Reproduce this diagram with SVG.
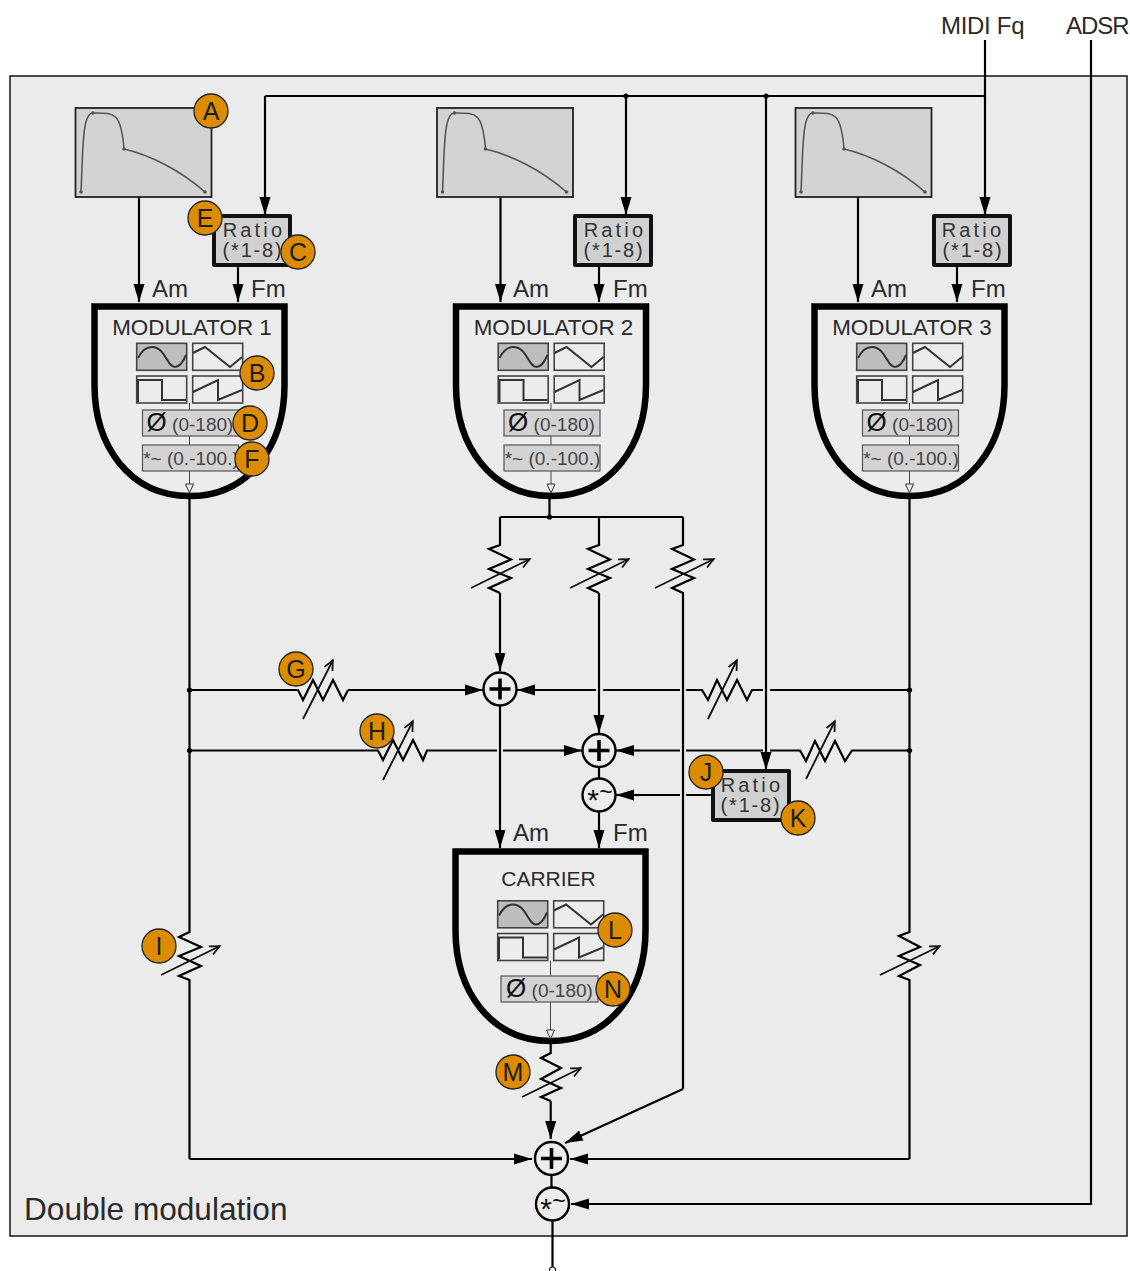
<svg xmlns="http://www.w3.org/2000/svg" width="1130" height="1271" viewBox="0 0 1130 1271">
<style>
text{font-family:"Liberation Sans",Arial,sans-serif;fill:#2a2a2a}
.lab{font-size:24px}
.title{font-size:22.400px;text-anchor:middle}
.ratio{font-size:20px;text-anchor:middle;letter-spacing:3.200px;fill:#333}
.ratio2{font-size:20px;text-anchor:middle;letter-spacing:1.800px;fill:#333}
.param{font-size:19px;text-anchor:middle;fill:#444}
.phi{font-size:26px;fill:#111}
.badge circle{fill:#dc8c00;stroke:#222;stroke-width:1.3}
.badge text{font-size:25px;text-anchor:middle;fill:#1c1c1c}
.w{fill:none;stroke:#000;stroke-width:2.200}
.a{fill:none;stroke:#000;stroke-width:2.200;marker-end:url(#ah)}
.d{fill:none;stroke:#111;stroke-width:1.800;marker-end:url(#oh)}
.shell{fill:#ececec;stroke:#000;stroke-width:6.500}
.rbox{fill:#d0d0d0;stroke:#111;stroke-width:4;stroke-linejoin:round}
.env{fill:#d2d2d2;stroke:#222;stroke-width:1.800}
.curve{fill:none;stroke:#555;stroke-width:1.600}
.pbox{fill:#d2d2d2;stroke:#555;stroke-width:1.200}
.wb{fill:none;stroke:#444;stroke-width:1.600}
.wl{fill:none;stroke:#333;stroke-width:2}
.op circle{fill:#ececec;stroke:#000;stroke-width:2.400}
.mulT{font-size:30px;text-anchor:middle;fill:#111}
.mulW{font-size:23px;text-anchor:middle;fill:#111}
.stem{fill:none;stroke:#444;stroke-width:1}
</style>
<defs>
<marker id="ah" markerUnits="userSpaceOnUse" markerWidth="20" markerHeight="13" refX="18" refY="6" orient="auto"><path d="M0 0.500L18 6L0 11.500Z" fill="#000"/></marker>
<marker id="oh" markerUnits="userSpaceOnUse" markerWidth="13" markerHeight="13" refX="11" refY="6" orient="auto"><path d="M1 1.500L10.500 6L1 10.500" fill="none" stroke="#111" stroke-width="1.800"/></marker>
<g id="waves">
<rect x="136.700" y="343.300" width="50" height="27" fill="#bdbdbd" stroke="#444" stroke-width="1.600"/>
<rect class="wb" x="192.700" y="343.300" width="50" height="27"/>
<rect class="wb" x="136.700" y="376" width="50" height="27"/>
<rect class="wb" x="192.700" y="376" width="50" height="27"/>
<path class="wl" d="M138 358C143 348 148 347 152 347C165 347 167 367 175 367C180 367 183 362 186 355"/>
<path class="wl" d="M193 353L205 347L230 367L242 357"/>
<path class="wl" d="M138 402V380H162V400H186"/>
<path class="wl" d="M193 392L218 380V400L242 390"/>
</g>
<g id="envc">
<path class="curve" d="M81 192C83 150 82 113 93 113C115 113 121 112 124 149C150 155 180 170 205 192"/>
<g fill="#555"><circle cx="81" cy="192" r="1.800"/><circle cx="93" cy="113" r="1.800"/><circle cx="124" cy="149" r="1.800"/><circle cx="205" cy="192" r="1.800"/></g>
</g>
<path id="shp" d="M94.500 306.500H284.500V385C284.500 445 250 496 189.500 496C129 496 94.500 445 94.500 385Z"/>
<path id="otri" d="M185.500 484H193.500L189.500 493Z" fill="#ececec" stroke="#333" stroke-width="1"/>
<path id="plus" d="M-10.500 0H10.500M0 -10.500V10.500" fill="none" stroke="#000" stroke-width="3.600"/>
</defs>

<rect id="panel" x="10" y="76" width="1117" height="1160" fill="#ebebeb" stroke="#222" stroke-width="1.600"/>

<g id="connectors">
<path class="w" d="M985 40V96H265"/>
<path class="a" d="M985 96V215"/>
<path class="a" d="M265 96V215"/>
<path class="a" d="M626 96V215"/>
<path class="a" d="M766 96V770"/>
<path class="a" d="M1091 40V1204H571"/>
<path class="a" d="M139 197V302"/><path class="a" d="M238 265V302"/>
<path class="a" d="M500.500 197V302"/><path class="a" d="M599 265V302"/>
<path class="a" d="M858 197V302"/><path class="a" d="M957 265V302"/>
<!-- modulator 1 output -->
<path class="w" d="M189.500 497V932L179 937L201 947L179 956L201 966L179 976L189.500 980V1159"/>
<path class="a" d="M189.500 1159H532"/>
<path class="d" d="M161 975L220 946"/>
<!-- modulator 2 output and branches -->
<path class="w" d="M549.500 497V517M500 517H683"/>
<path class="w" d="M500 517V545L489 549L511 559.500L489 569L511 578L489 588L500 593"/>
<path class="a" d="M500 593V671"/><path class="d" d="M471 588L530 559"/>
<path class="w" d="M599 517V545L588 549L610 559.500L588 569L610 578L588 588L599 593"/>
<path class="a" d="M599 593V733"/><path class="d" d="M570 588L629 559"/>
<path class="w" d="M683 517V545L672 549L694 559.500L672 569L694 578L672 588L683 593V1089"/>
<path class="a" d="M683 1089L565 1143"/><path class="d" d="M655 588L714 559"/>
<!-- modulator 3 output -->
<path class="w" d="M909.500 497V932L899 936L920 947L899 956L920 965L899 976L909.500 980V1159"/>
<path class="a" d="M909.500 1159H570"/>
<path class="d" d="M880 975L940 946"/>
<!-- row 689 -->
<path class="w" d="M189.500 690H298L303 700L313 680L323 700L333 680L343 700L348 690"/>
<path class="a" d="M348 690H483"/><path class="d" d="M303 719L333 660"/>
<path class="w" d="M909.500 690H770M763 690H752L747 700L737 680L727 700L717 680L708 700L702 690H686M680 690H603M596 690H590"/>
<path class="a" d="M590 690H517"/><path class="d" d="M708 719L737 660"/>
<!-- row 750 -->
<path class="w" d="M189.500 750.500H378L383 760L393 740L403 760L413 740L423 760L427 750.500H497M503 750.500H560"/>
<path class="a" d="M560 750.500H582"/><path class="d" d="M383 780L413 721"/>
<path class="w" d="M909.500 750.500H852L845 761L835 741L825 761L815 741L806 761L800 750.500H770M763 750.500H686M680 750.500H640"/>
<path class="a" d="M640 750.500H616"/><path class="d" d="M806 779L835 721"/>
<!-- summers to carrier -->
<path class="a" d="M500 706V848"/>
<path class="w" d="M599 767V779"/>
<path class="a" d="M599 811V848"/>
<path class="w" d="M713 795H686M680 795H640"/>
<path class="a" d="M640 795H616"/>
<!-- carrier output -->
<path class="w" d="M550.700 1043V1053L541 1058L561 1068L541 1079L561 1088L541 1097L550.700 1101"/>
<path class="a" d="M550.700 1101V1139"/>
<path class="d" d="M522 1097L581 1068"/>
<path class="w" d="M551.500 1176V1188M552.500 1220V1268"/>
<circle cx="552.500" cy="1270" r="3" fill="#fff" stroke="#111" stroke-width="1.200"/>
<g fill="#000"><circle cx="626" cy="96" r="2.600"/><circle cx="766" cy="96" r="2.600"/><circle cx="549.500" cy="517" r="2.600"/><circle cx="189.500" cy="690" r="2.600"/><circle cx="189.500" cy="750.500" r="2.600"/><circle cx="909.500" cy="690" r="2.600"/><circle cx="909.500" cy="750.500" r="2.600"/></g>
</g>

<g id="env1"><rect class="env" x="75.500" y="108" width="136" height="89"/><use href="#envc"/></g>
<g id="env2"><rect class="env" x="437" y="108" width="136" height="89"/><use href="#envc" x="361.500"/></g>
<g id="env3"><rect class="env" x="795.500" y="108" width="136" height="89"/><use href="#envc" x="720"/></g>

<g id="ratio1"><rect class="rbox" x="214" y="216" width="76" height="49"/><text class="ratio" x="254" y="237">Ratio</text><text class="ratio2" x="253" y="257">(*1-8)</text></g>
<g id="ratio2"><rect class="rbox" x="575" y="216" width="76" height="49"/><text class="ratio" x="615" y="237">Ratio</text><text class="ratio2" x="614" y="257">(*1-8)</text></g>
<g id="ratio3"><rect class="rbox" x="934" y="216" width="76" height="49"/><text class="ratio" x="973" y="237">Ratio</text><text class="ratio2" x="973" y="257">(*1-8)</text></g>
<g id="ratio4"><rect class="rbox" x="713" y="771" width="76" height="49"/><text class="ratio" x="752" y="792">Ratio</text><text class="ratio2" x="751" y="812">(*1-8)</text></g>

<g id="mod1">
<use href="#shp" class="shell"/><text class="title" x="192" y="335">MODULATOR 1</text>
<path class="stem" d="M189.500 403V484"/><use href="#waves"/><use href="#otri"/>
<rect class="pbox" x="142.500" y="410" width="96" height="26"/><text class="param" x="190" y="431"><tspan class="phi">Ø</tspan> (0-180)</text>
<rect class="pbox" x="142.500" y="445" width="96" height="26"/><text class="param" x="191" y="465">*~ (0.-100.)</text>
</g>
<g id="mod2">
<use href="#shp" class="shell" x="361.500"/><text class="title" x="553.500" y="335">MODULATOR 2</text>
<path class="stem" d="M551 403V484"/><use href="#waves" x="361.500"/><use href="#otri" x="361.500"/>
<rect class="pbox" x="504" y="410" width="96" height="26"/><text class="param" x="551.500" y="431"><tspan class="phi">Ø</tspan> (0-180)</text>
<rect class="pbox" x="504" y="445" width="96" height="26"/><text class="param" x="552.500" y="465">*~ (0.-100.)</text>
</g>
<g id="mod3">
<use href="#shp" class="shell" x="720"/><text class="title" x="912" y="335">MODULATOR 3</text>
<path class="stem" d="M909.500 403V484"/><use href="#waves" x="720"/><use href="#otri" x="720"/>
<rect class="pbox" x="862.500" y="410" width="96" height="26"/><text class="param" x="910" y="431"><tspan class="phi">Ø</tspan> (0-180)</text>
<rect class="pbox" x="862.500" y="445" width="96" height="26"/><text class="param" x="911" y="465">*~ (0.-100.)</text>
</g>
<g id="carrier">
<use href="#shp" class="shell" x="361" y="545"/><text class="title" x="548.500" y="886" style="font-size:21px">CARRIER</text>
<path class="stem" d="M550.500 961V1030"/><use href="#waves" x="361" y="557.500"/><use href="#otri" x="361" y="546"/>
<rect class="pbox" x="501" y="976" width="97" height="26"/><text class="param" x="549.500" y="997"><tspan class="phi">Ø</tspan> (0-180)</text>
</g>

<g id="labels">
<text class="lab" x="152" y="297">Am</text><text class="lab" x="251" y="297">Fm</text>
<text class="lab" x="513" y="297">Am</text><text class="lab" x="613" y="297">Fm</text>
<text class="lab" x="871" y="297">Am</text><text class="lab" x="971" y="297">Fm</text>
<text class="lab" x="513" y="841">Am</text><text class="lab" x="613" y="841">Fm</text>
<text class="lab" x="941" y="34" letter-spacing="-0.300">MIDI Fq</text>
<text class="lab" x="1066" y="34" letter-spacing="-1">ADSR</text>
<text x="24" y="1220" font-size="31.600">Double modulation</text>
</g>

<g id="sum1" class="op"><circle cx="500" cy="689" r="16.500"/><use href="#plus" x="500" y="689"/></g>
<g id="sum2" class="op"><circle cx="599" cy="750.500" r="16.500"/><use href="#plus" x="599" y="750.500"/></g>
<g id="mul1" class="op"><circle cx="599" cy="795" r="16.500"/><text class="mulT" x="593" y="810">*<tspan class="mulW" x="606" y="800">~</tspan></text></g>
<g id="sum3" class="op"><circle cx="551.500" cy="1158.500" r="16.500"/><use href="#plus" x="551.500" y="1158.500"/></g>
<g id="mul2" class="op"><circle cx="552.500" cy="1204" r="16.500"/><text class="mulT" x="546" y="1219">*<tspan class="mulW" x="559" y="1209">~</tspan></text></g>

<g id="badgeA" class="badge"><circle cx="211" cy="111" r="17"/><text x="211" y="120">A</text></g>
<g id="badgeB" class="badge"><circle cx="257" cy="373" r="17"/><text x="257" y="382">B</text></g>
<g id="badgeC" class="badge"><circle cx="298" cy="252" r="17"/><text x="298" y="261">C</text></g>
<g id="badgeD" class="badge"><circle cx="250" cy="423" r="17"/><text x="250" y="432">D</text></g>
<g id="badgeE" class="badge"><circle cx="205" cy="218" r="17"/><text x="205" y="227">E</text></g>
<g id="badgeF" class="badge"><circle cx="252" cy="459" r="17"/><text x="252" y="468">F</text></g>
<g id="badgeG" class="badge"><circle cx="296" cy="669" r="17"/><text x="296" y="678">G</text></g>
<g id="badgeH" class="badge"><circle cx="377" cy="731" r="17"/><text x="377" y="740">H</text></g>
<g id="badgeI" class="badge"><circle cx="159" cy="946" r="17"/><text x="159" y="955">I</text></g>
<g id="badgeJ" class="badge"><circle cx="706" cy="772" r="17"/><text x="706" y="781">J</text></g>
<g id="badgeK" class="badge"><circle cx="798" cy="818" r="17"/><text x="798" y="827">K</text></g>
<g id="badgeL" class="badge"><circle cx="615" cy="930" r="17"/><text x="615" y="939">L</text></g>
<g id="badgeM" class="badge"><circle cx="513" cy="1072" r="17"/><text x="513" y="1081">M</text></g>
<g id="badgeN" class="badge"><circle cx="613" cy="989" r="17"/><text x="613" y="998">N</text></g>
</svg>
